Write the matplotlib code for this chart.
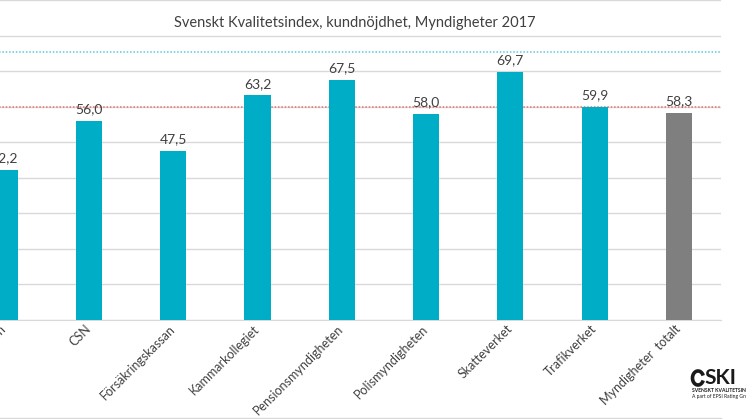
import matplotlib.pyplot as plt
from matplotlib.lines import Line2D
from matplotlib.patches import Arc

# data
myndigheter = ['Arbetsförmedlingen', 'CSN', 'Försäkringskassan', 'Kammarkollegiet',
               'Pensionsmyndigheten', 'Polismyndigheten', 'Skatteverket',
               'Trafikverket', 'Myndigheter  totalt']
ski_index = [42.2, 56.0, 47.5, 63.2, 67.5, 58.0, 69.7, 59.9, 58.3]
ref_blue = 75.3
ref_red = 59.8

plt.rcParams['font.family'] = ['Lato', 'DejaVu Sans']

W, H = 746, 419
fig = plt.figure(figsize=(W / 100, H / 100), dpi=100)

# axes run past the left edge (reference is a cropped chart)
x0, x1 = -37.5, 721
y_base, y_top = 320, 0
ax = fig.add_axes([x0 / W, (H - y_base) / H, (x1 - x0) / W, (y_base - y_top) / H])

farger = ['#00adc6'] * (len(myndigheter) - 1) + ['#7f7f7f']
pos = list(range(len(myndigheter)))
staplar = ax.bar(pos, ski_index, width=0.31, color=farger, zorder=3)

for b, v in zip(staplar, ski_index):
    ax.annotate(f'{v:.1f}'.replace('.', ','), (b.get_x() + b.get_width() / 2, v),
                xytext=(0, 4), textcoords='offset points', ha='center', va='bottom',
                fontsize=10, color='#404040')

ax.axhline(ref_blue, color='#5ec8e0', linestyle=(0, (1, 1.2)), linewidth=1.1, zorder=2)
ax.axhline(ref_red, color='#e8706a', linestyle=(0, (1, 1.2)), linewidth=1.1, zorder=2)

ax.set_xlim(-0.5, len(myndigheter) - 0.5)
ax.set_ylim(0, 90)
ax.set_yticks(range(0, 91, 10))
ax.yaxis.grid(True, color='#d9d9d9', linewidth=1, zorder=0)
ax.tick_params(axis='y', left=False, labelleft=False)
ax.tick_params(axis='x', length=0, pad=5)
for s in ['top', 'right', 'left']:
    ax.spines[s].set_visible(False)
ax.spines['bottom'].set_color('#d9d9d9')

ax.set_xticks(pos)
ax.set_xticklabels(myndigheter, rotation=45, ha='right', va='center', rotation_mode='anchor',
                   fontsize=9, color='#404040')

fig.text(355 / W, 1 - 23 / H, 'Svenskt Kvalitetsindex, kundnöjdhet, Myndigheter 2017',
         ha='center', va='center', fontsize=10.5, color='#404040')

# bottom border of the chart area
fig.add_artist(Line2D([0, 721 / W], [1 - 418 / H, 1 - 418 / H], color='#d9d9d9', linewidth=1))

# SKI logo (approximation)
fig.add_artist(Arc((698 / W, 1 - 378 / H), 11 / W, 14 / H, theta1=40, theta2=320,
                   color='#1a1a1a', linewidth=2.6))
fig.text(704 / W, 1 - 378 / H, 'SKI', fontsize=15, fontweight='bold', color='#1a1a1a',
         ha='left', va='center')
fig.text(692 / W, 1 - 390 / H, 'SVENSKT KVALITETSINDEX', fontsize=3.6, fontweight='bold',
         color='#1a1a1a', ha='left', va='center')
fig.text(692 / W, 1 - 396 / H, 'A part of EPSI Rating Group', fontsize=3.6, color='#1a1a1a',
         ha='left', va='center')

fig.savefig('out.png', dpi=100)
